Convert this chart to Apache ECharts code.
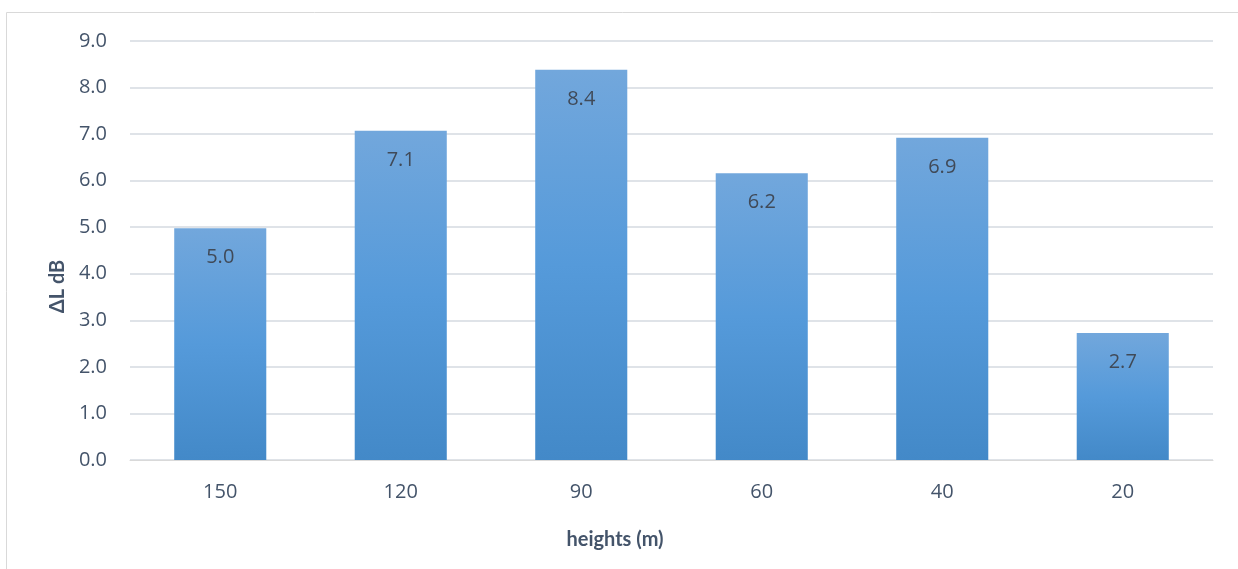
<!DOCTYPE html>
<html><head><meta charset="utf-8">
<script src="https://cdn.jsdelivr.net/npm/echarts@6/dist/echarts.min.js"></script>
<style>html,body{margin:0;padding:0;background:#fff}#c{width:1238px;height:569px}</style>
</head><body><div id="c"></div>
<script>
const categories = ['150', '120', '90', '60', '40', '20'];
const values = [4.98, 7.07, 8.38, 6.16, 6.92, 2.73];
const yTicks = [0, 9, 1];
const xTitle = 'heights (m)';
const yTitle = 'ΔL dB';

const chart = echarts.init(document.getElementById('c'));
const font = '"Open Sans", "Noto Sans", sans-serif';
const titleFont = 'Lato, "Open Sans", sans-serif';
chart.setOption({
  animation: false,
  textStyle: { fontFamily: font },
  graphic: [{
    type: 'rect', shape: { x: 6.5, y: 12.5, width: 1260, height: 600 },
    style: { fill: 'none', stroke: '#d9d9d9', lineWidth: 1 }, silent: true, z: -1
  }],
  grid: { left: 130, right: 25, top: 41, bottom: 109 },
  xAxis: {
    type: 'category', data: categories,
    name: xTitle, nameLocation: 'middle', nameGap: 70,
    nameTextStyle: { fontFamily: titleFont, fontSize: 20, fontWeight: 'bold', color: '#44546a',
      padding: [0, 113, 0, 0] },
    axisLine: { show: true, lineStyle: { color: '#d9d9d9', width: 1 } },
    axisTick: { show: false },
    axisLabel: { fontFamily: font, fontSize: 20, color: '#44546a', margin: 22 }
  },
  yAxis: {
    type: 'value', min: yTicks[0], max: yTicks[1], interval: yTicks[2],
    name: yTitle, nameLocation: 'middle', nameGap: 62, nameRotate: 90,
    nameTextStyle: { fontFamily: titleFont, fontSize: 20, fontWeight: 'bold', color: '#44546a',
      padding: [0, 72, 0, 0] },
    axisLine: { show: false }, axisTick: { show: false },
    axisLabel: { fontFamily: font, fontSize: 20, color: '#44546a', margin: 23,
      formatter: v => v.toFixed(1) },
    splitLine: { lineStyle: { color: '#dfe3e8', width: 2 } }
  },
  series: [{
    type: 'bar', data: values, barCategoryGap: '49%',
    itemStyle: {
      color: new echarts.graphic.LinearGradient(0, 0, 0, 1, [
        { offset: 0, color: '#72a7dc' },
        { offset: 0.5, color: '#559ada' },
        { offset: 1, color: '#4389c8' }
      ])
    },
    label: {
      show: true, position: 'insideTop', distance: 19,
      fontFamily: font, fontSize: 20, color: '#404a58',
      formatter: p => p.value.toFixed(1)
    }
  }]
});
</script></body></html>
